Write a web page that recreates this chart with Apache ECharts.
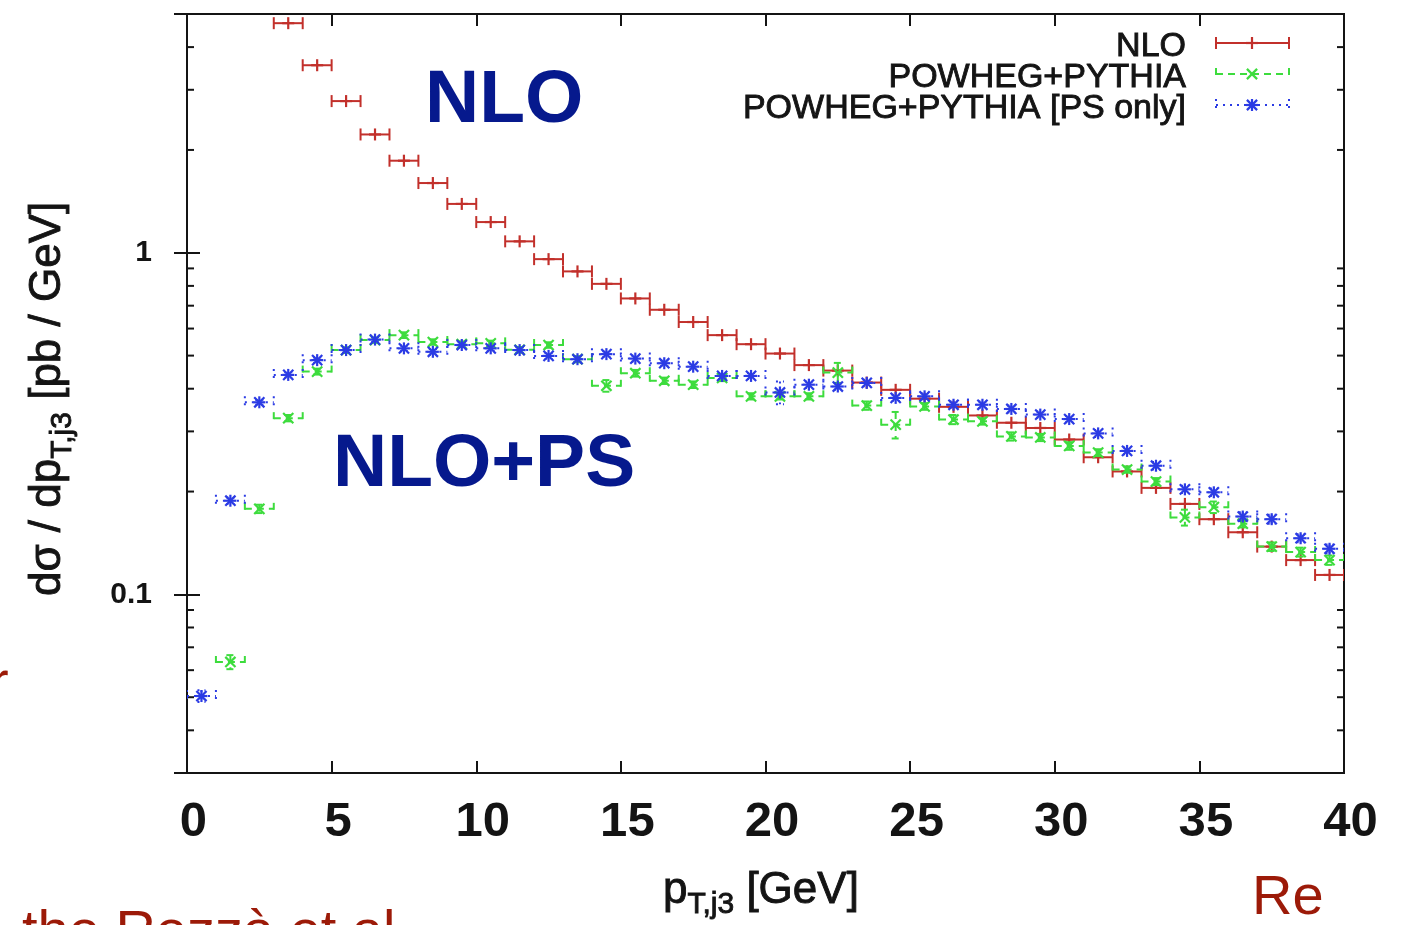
<!DOCTYPE html>
<html>
<head>
<meta charset="utf-8">
<script src="https://cdn.jsdelivr.net/npm/echarts@6/dist/echarts.min.js"></script>
<style>
  html, body { margin: 0; padding: 0; background: #fff; overflow: hidden; }
  #chart { width: 1408px; height: 925px; }
</style>
</head>
<body>
<div id="chart"></div>
<script>
// Third-jet transverse momentum spectrum, 1 GeV bins from 0 to 40 GeV
const binCenters = [0.5, 1.5, 2.5, 3.5, 4.5, 5.5, 6.5, 7.5, 8.5, 9.5,
  10.5, 11.5, 12.5, 13.5, 14.5, 15.5, 16.5, 17.5, 18.5, 19.5,
  20.5, 21.5, 22.5, 23.5, 24.5, 25.5, 26.5, 27.5, 28.5, 29.5,
  30.5, 31.5, 32.5, 33.5, 34.5, 35.5, 36.5, 37.5, 38.5, 39.5];
const binHalfWidth = 0.5;

// dσ/dpT,j3 in pb/GeV
const nloValues = [null, null, null, 4.70, 3.54, 2.78, 2.22, 1.86, 1.60, 1.39,
  1.23, 1.08, 0.958, 0.882, 0.811, 0.735, 0.681, 0.627, 0.574, 0.540,
  0.507, 0.469, 0.452, 0.417, 0.397, 0.374, 0.354, 0.334, 0.318, 0.307,
  0.284, 0.252, 0.229, 0.205, 0.184, 0.166, 0.152, 0.138, 0.126, 0.114];

const powhegValues = [null, 0.0634, 0.178, 0.328, 0.449, 0.519, 0.555, 0.574, 0.548, 0.540,
  0.543, 0.520, 0.537, 0.488, 0.408, 0.444, 0.422, 0.411, 0.430, 0.380,
  0.380, 0.380, 0.446, 0.357, 0.314, 0.355, 0.325, 0.321, 0.290, 0.288,
  0.272, 0.260, 0.232, 0.214, 0.168, 0.180, 0.161, 0.138, 0.133, 0.126];
const powhegErrors = [null, 0.003, 0.005, 0.007, 0.009, 0.010, 0.010, 0.011, 0.010, 0.010,
  0.010, 0.010, 0.010, 0.010, 0.016, 0.010, 0.009, 0.009, 0.009, 0.008,
  0.008, 0.008, 0.030, 0.010, 0.028, 0.008, 0.010, 0.007, 0.008, 0.007,
  0.007, 0.006, 0.005, 0.005, 0.009, 0.007, 0.004, 0.004, 0.004, 0.004];

const psOnlyValues = [0.0504, 0.188, 0.365, 0.439, 0.485, 0.519, 0.557, 0.525, 0.513, 0.537,
  0.525, 0.519, 0.499, 0.488, 0.505, 0.490, 0.475, 0.464, 0.436, 0.436,
  0.390, 0.411, 0.406, 0.416, 0.376, 0.380, 0.359, 0.359, 0.349, 0.336,
  0.326, 0.296, 0.263, 0.238, 0.203, 0.199, 0.169, 0.166, 0.146, 0.136];
const psOnlyErrors = [0.002, 0.004, 0.006, 0.008, 0.009, 0.009, 0.010, 0.010, 0.010, 0.010,
  0.010, 0.010, 0.010, 0.010, 0.010, 0.010, 0.009, 0.009, 0.009, 0.009,
  0.030, 0.009, 0.009, 0.009, 0.008, 0.008, 0.008, 0.008, 0.008, 0.007,
  0.007, 0.007, 0.006, 0.006, 0.005, 0.005, 0.005, 0.005, 0.004, 0.004];

const seriesNames = ['NLO', 'POWHEG+PYTHIA', 'POWHEG+PYTHIA [PS only]'];

// Axis ticks
const xTickInterval = 5;
const yLabelValues = [0.1, 1];
const yMinorTickValues = [0.04, 0.05, 0.06, 0.07, 0.08, 0.09,
  0.2, 0.3, 0.4, 0.5, 0.6, 0.7, 0.8, 0.9, 2, 3, 4];

const FONT = '"Liberation Sans", Arial, Helvetica, sans-serif';
const INK = '#141414';
const COLORS = { nlo: '#c2302b', powheg: '#3ddc3d', psOnly: '#2b3be4' };
const SLIDE_BLUE = '#06198d';
const SLIDE_RED = '#9c1a08';

// Point glyphs: '+', 'x' and '*'
function glyph(kind, cx, cy, r, color) {
  const st = { stroke: color, lineWidth: 2.2, fill: null };
  const out = [];
  if (kind === 'plus' || kind === 'star') {
    out.push({ type: 'line', shape: { x1: cx - r, y1: cy, x2: cx + r, y2: cy }, style: st });
    out.push({ type: 'line', shape: { x1: cx, y1: cy - r, x2: cx, y2: cy + r }, style: st });
  }
  if (kind === 'cross' || kind === 'star') {
    const d = r * 0.85;
    out.push({ type: 'line', shape: { x1: cx - d, y1: cy - d, x2: cx + d, y2: cy + d }, style: st });
    out.push({ type: 'line', shape: { x1: cx - d, y1: cy + d, x2: cx + d, y2: cy - d }, style: st });
  }
  return out;
}

// Horizontal bin bar with end caps, a vertical error bar and a point glyph
function barShapes(x1, x2, cx, cy, yTop, yBot, color, dash, kind) {
  const st = { stroke: color, lineWidth: 2, lineDash: dash, fill: null };
  const cap = 6;
  const out = [
    { type: 'line', shape: { x1: x1, y1: cy, x2: x2, y2: cy }, style: st },
    { type: 'line', shape: { x1: x1, y1: cy - cap, x2: x1, y2: cy + cap }, style: st },
    { type: 'line', shape: { x1: x2, y1: cy - cap, x2: x2, y2: cy + cap }, style: st }
  ];
  if (yTop !== null && Math.abs(yBot - yTop) > 2) {
    out.push({ type: 'line', shape: { x1: cx, y1: yTop, x2: cx, y2: yBot }, style: st });
    out.push({ type: 'line', shape: { x1: cx - 4, y1: yTop, x2: cx + 4, y2: yTop }, style: st });
    out.push({ type: 'line', shape: { x1: cx - 4, y1: yBot, x2: cx + 4, y2: yBot }, style: st });
  }
  return out.concat(glyph(kind, cx, cy, 6, color));
}

function errorSeries(name, values, errors, color, dash, kind, z) {
  const data = [];
  binCenters.forEach(function (x, i) {
    if (values[i] != null) data.push([x, values[i], errors ? (errors[i] || 0) : 0]);
  });
  return {
    type: 'custom',
    name: name,
    coordinateSystem: 'cartesian2d',
    clip: true,
    z: z,
    silent: true,
    data: data,
    renderItem: function (params, api) {
      const x = api.value(0), y = api.value(1), e = api.value(2);
      const L = api.coord([x - binHalfWidth, y]);
      const R = api.coord([x + binHalfWidth, y]);
      const C = api.coord([x, y]);
      let top = null, bot = null;
      if (e > 0) {
        top = api.coord([x, y + e])[1];
        bot = api.coord([x, y - e])[1];
      }
      return { type: 'group', children: barShapes(L[0], R[0], C[0], C[1], top, bot, color, dash, kind) };
    }
  };
}

// Minor ticks of the logarithmic axis, mirrored on both frame sides
const minorTickSeries = {
  type: 'custom',
  coordinateSystem: 'cartesian2d',
  silent: true,
  z: 1,
  data: yMinorTickValues.map(function (v) { return [0, v]; }),
  renderItem: function (params, api) {
    const v = api.value(1);
    const left = api.coord([0, v]);
    const right = api.coord([40, v]);
    const st = { stroke: INK, lineWidth: 2 };
    return {
      type: 'group',
      children: [
        { type: 'line', shape: { x1: left[0], y1: left[1], x2: left[0] + 7, y2: left[1] }, style: st },
        { type: 'line', shape: { x1: right[0], y1: right[1], x2: right[0] - 7, y2: right[1] }, style: st }
      ]
    };
  }
};

// Text measuring for hand-laid titles with subscripts
const mctx = document.createElement('canvas').getContext('2d');
function textWidth(str, size) {
  mctx.font = size + 'px ' + FONT;
  return mctx.measureText(str).width;
}
function mid(baseline, size) { return baseline - 0.3465 * size; }

// Text runs laid out left to right: [text, fontSize, baseline]
function runs(parts, startX) {
  let x = startX;
  return parts.map(function (p) {
    const el = {
      type: 'text', x: x, y: mid(p[2], p[1]),
      style: { text: p[0], font: p[1] + 'px ' + FONT, fill: INK, stroke: INK, lineWidth: 0.9,
        align: 'left', verticalAlign: 'middle' }
    };
    x += textWidth(p[0], p[1]);
    return el;
  });
}

const xTitle = {
  type: 'group', x: 0, y: 0,
  children: runs([['p', 44, 906], ['T,j3', 30, 915], [' [GeV]', 44, 906]], 663)
};
// Rotated y title: local x runs upward from the bottom of the text, local y maps to screen x
const yTitle = {
  type: 'group', x: 0, y: 596, rotation: Math.PI / 2,
  children: runs([['d\u03c3 / dp', 44, 63], ['T,j3', 30, 73], [' [pb / GeV]', 44, 63]], 0)
};

// Legend block in the upper right corner
const legendRows = [
  { name: seriesNames[0], color: COLORS.nlo, dash: null, kind: 'plus', textY: 47, lineY: 43 },
  { name: seriesNames[1], color: COLORS.powheg, dash: [7, 5], kind: 'cross', textY: 78, lineY: 74 },
  { name: seriesNames[2], color: COLORS.psOnly, dash: [2, 5], kind: 'star', textY: 109, lineY: 105 }
];
const legendChildren = [];
legendRows.forEach(function (r) {
  legendChildren.push({
    type: 'text', x: 1186, y: r.textY,
    style: { text: r.name, font: '34px ' + FONT, fill: INK, stroke: INK, lineWidth: 0.9,
      align: 'right', verticalAlign: 'middle' }
  });
  barShapes(1216, 1289, 1252, r.lineY, null, null, r.color, r.dash, r.kind).forEach(function (s) {
    legendChildren.push(s);
  });
});

const slideText = [
  { type: 'text', x: 425, y: 101, style: { text: 'NLO', font: 'bold 75px ' + FONT, fill: SLIDE_BLUE, verticalAlign: 'middle' } },
  { type: 'text', x: 333, y: 465, style: { text: 'NLO+PS', font: 'bold 75px ' + FONT, fill: SLIDE_BLUE, verticalAlign: 'middle' } },
  { type: 'text', x: 1252, y: 899, style: { text: 'Re', font: '56px ' + FONT, fill: SLIDE_RED, verticalAlign: 'middle' } },
  { type: 'text', x: -10, y: 685, style: { text: 'r', font: '56px ' + FONT, fill: SLIDE_RED, verticalAlign: 'middle' } },
  { type: 'text', x: 22, y: 934, style: { text: 'the Rezz\u00e0 et al.', font: '56px ' + FONT, fill: SLIDE_RED, verticalAlign: 'middle' } }
];

function yLabel(v) {
  for (let i = 0; i < yLabelValues.length; i++) {
    if (Math.abs(v - yLabelValues[i]) / yLabelValues[i] < 1e-6) return String(yLabelValues[i]);
  }
  return '';
}

const logAxisBase = {
  type: 'log', logBase: 10, min: 0.03, max: 5,
  axisLine: { show: true, lineStyle: { color: INK, width: 2 } },
  axisTick: { show: true, inside: true, length: 13, lineStyle: { color: INK, width: 2 } },
  splitLine: { show: false },
  minorTick: { show: false }
};
const linAxisBase = {
  type: 'value', min: 0, max: 40, interval: xTickInterval,
  axisLine: { show: true, onZero: false, lineStyle: { color: INK, width: 2 } },
  axisTick: { show: true, inside: true, length: 12, lineStyle: { color: INK, width: 2 } },
  splitLine: { show: false }
};

const chart = echarts.init(document.getElementById('chart'), null, { renderer: 'canvas' });
chart.setOption({
  animation: false,
  backgroundColor: '#ffffff',
  grid: { left: 187, right: 64, top: 14, bottom: 152, show: true, borderColor: INK, borderWidth: 2, backgroundColor: 'transparent' },
  xAxis: [
    Object.assign({}, linAxisBase, {
      position: 'bottom',
      axisLabel: { fontFamily: FONT, fontSize: 49, fontWeight: 'bold', color: INK, margin: 25, padding: [0, 0, 0, 13] }
    }),
    Object.assign({}, linAxisBase, { position: 'top', axisLabel: { show: false } })
  ],
  yAxis: [
    Object.assign({}, logAxisBase, {
      position: 'left',
      axisLabel: { formatter: yLabel, fontFamily: FONT, fontSize: 30, fontWeight: 'bold', color: INK, margin: 35, padding: [13, 0, 0, 0] }
    }),
    Object.assign({}, logAxisBase, { position: 'right', axisLabel: { show: false } })
  ],
  series: [
    minorTickSeries,
    errorSeries(seriesNames[0], nloValues, null, COLORS.nlo, null, 'plus', 3),
    errorSeries(seriesNames[1], powhegValues, powhegErrors, COLORS.powheg, [7, 5], 'cross', 4),
    errorSeries(seriesNames[2], psOnlyValues, psOnlyErrors, COLORS.psOnly, [2, 5], 'star', 5)
  ],
  graphic: [xTitle, yTitle].concat(legendChildren, slideText)
});
</script>
</body>
</html>
